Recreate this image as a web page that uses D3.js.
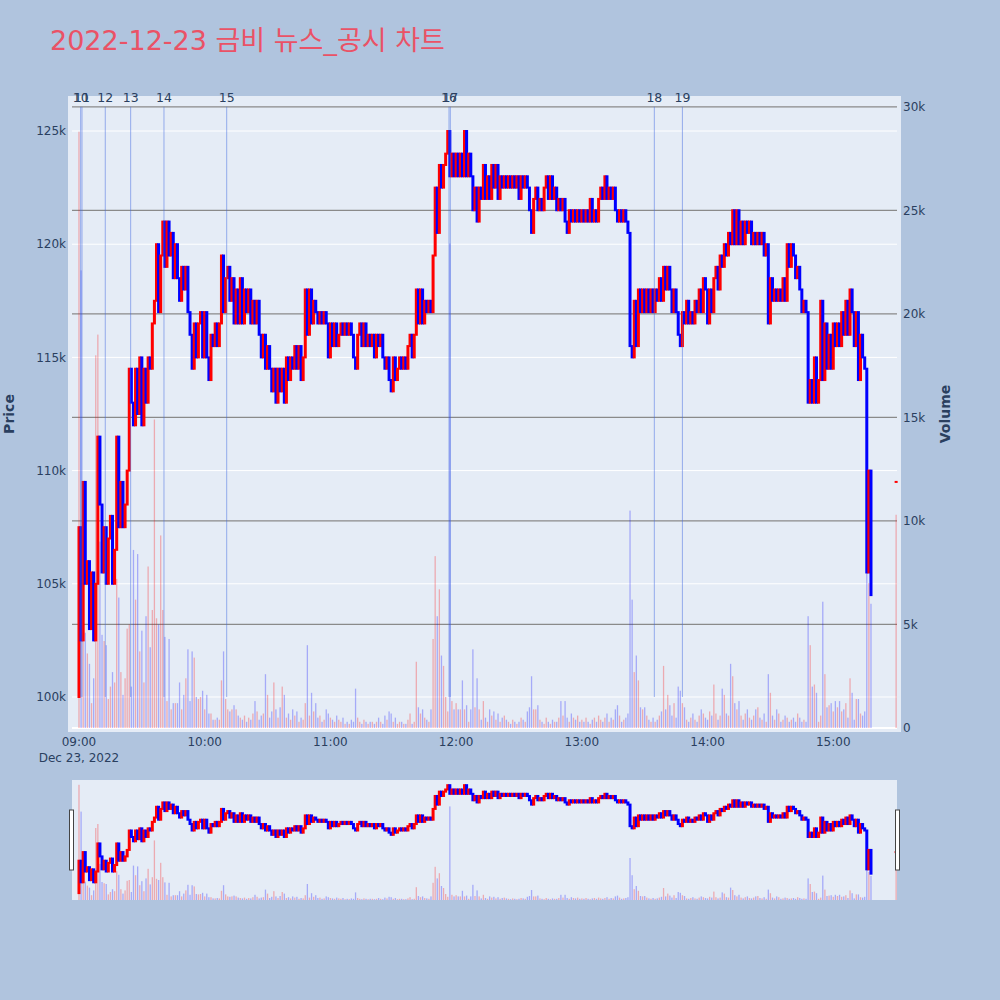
<!DOCTYPE html>
<html><head><meta charset="utf-8">
<script src="https://cdn.jsdelivr.net/npm/d3@7"></script>
<style>
body{margin:0;background:#b0c4de;}
svg{display:block;font-family:"DejaVu Sans","Noto Sans CJK KR",sans-serif;}
</style>
</head><body>
<svg id="chart" width="1000" height="1000"></svg>
<script>
// ---------------- DATA ----------------
const chartTitle = "2022-12-23 금비 뉴스_공시 차트";
const sessionStart = "2022-12-23 09:00";
const firstOpen = 100.0; // k won
// one-minute closes (k won) from 09:00 to 15:18
const closes = [
107.5,102.5,109.5,105.0,106.0,103.0,105.5,102.5,105.0,111.5,
108.5,105.5,107.5,105.0,107.0,108.0,105.0,106.5,111.5,107.5,
109.5,107.5,108.5,110.0,114.5,113.0,112.0,114.5,112.5,115.0,
112.0,114.5,113.0,115.0,114.5,116.5,117.5,120.0,117.0,119.5,
121.0,119.0,121.0,119.5,120.5,118.5,120.0,118.5,117.5,119.0,
118.0,119.0,117.0,116.0,114.5,116.5,115.0,116.5,117.0,115.0,
117.0,115.0,114.0,116.0,115.5,116.5,115.5,116.5,119.5,117.0,
118.5,119.0,117.5,118.5,116.5,118.0,116.5,118.5,116.5,118.0,
117.0,118.0,116.5,117.5,116.5,117.5,116.0,115.0,116.0,114.5,
115.5,114.5,113.5,114.5,113.0,114.5,113.5,114.5,113.0,115.0,
114.0,115.0,114.5,115.5,114.5,115.5,114.0,115.0,118.0,116.0,
118.0,116.5,117.5,117.0,116.5,117.0,116.5,117.0,116.5,115.0,
116.5,115.5,116.5,115.5,116.0,116.5,116.0,116.5,116.0,116.5,
116.0,115.0,114.5,116.0,116.5,115.5,116.5,115.5,116.0,115.5,
116.0,115.0,116.0,115.5,116.0,115.0,114.5,115.0,114.0,113.5,
115.0,114.0,114.5,115.0,114.5,115.0,114.5,115.5,116.0,115.0,
116.0,118.0,116.5,118.0,116.5,117.5,117.0,117.5,117.0,119.5,
122.5,120.5,123.5,122.5,123.5,124.0,125.0,123.0,124.0,123.0,
124.0,123.0,124.0,123.0,125.0,123.0,124.0,123.0,121.5,122.5,
121.0,122.5,122.0,123.5,122.0,123.0,122.0,123.5,122.5,123.5,
122.0,123.0,122.5,123.0,122.5,123.0,122.5,123.0,122.5,123.0,
122.0,123.0,122.5,123.0,122.5,121.5,120.5,122.0,122.5,121.5,
122.0,121.5,122.5,123.0,122.0,123.0,122.0,122.5,121.5,122.0,
121.5,122.0,121.0,120.5,121.5,121.0,121.5,121.0,121.5,121.0,
121.5,121.0,121.5,121.0,122.0,121.0,121.5,121.0,122.0,122.5,
122.0,123.0,122.0,122.5,122.0,122.5,121.5,121.0,121.5,121.0,
121.5,121.0,120.5,115.5,115.0,117.5,115.5,118.0,117.0,118.0,
117.0,118.0,117.0,118.0,117.0,118.0,117.5,118.5,117.5,119.0,
118.0,119.0,118.0,117.0,118.0,117.0,116.0,115.5,117.0,116.5,
117.5,116.5,117.0,116.5,117.5,117.0,118.0,117.0,118.5,118.0,
116.5,118.0,117.0,118.5,119.0,118.0,119.5,119.0,120.0,119.5,
120.5,120.0,121.5,120.0,121.5,120.0,121.0,120.0,121.0,120.5,
121.0,120.0,120.5,120.0,120.5,120.0,120.5,119.5,120.0,116.5,
118.5,117.5,118.0,117.5,118.0,117.5,118.5,117.5,120.0,119.0,
120.0,119.5,118.5,119.0,118.0,117.0,117.5,117.0,113.0,114.0,
113.0,115.0,113.0,114.0,117.5,114.0,116.5,114.5,116.0,114.5,
116.5,115.5,116.5,115.5,117.0,116.0,117.5,116.0,118.0,117.0,
115.5,117.0,114.0,116.0,115.0,114.5,105.5,110.0,104.5
];
const volumes = [
28800,22100,7100,4600,3600,3100,1200,2400,18000,19000,
9000,4500,4200,4000,1400,2000,2700,2200,7200,6300,
2700,1600,2400,4800,5000,2000,8600,6200,8400,3700,
4700,2200,5400,7800,3900,5700,14900,5300,5000,9300,
5700,4400,1300,4300,900,1200,1200,1200,2200,900,
1600,2400,3800,1300,3700,3400,1500,1400,1500,1800,
900,1600,700,700,400,400,500,400,2300,3700,
1400,900,800,900,1100,900,600,500,400,600,
300,500,400,700,1300,800,400,600,700,2600,
1600,500,800,2200,900,500,1000,2000,1600,500,
700,400,900,600,800,300,500,400,1200,4000,
600,1700,800,1200,500,600,300,400,900,700,
500,400,300,600,400,300,500,200,300,200,
400,300,1900,500,300,200,400,300,200,300,
300,200,300,500,300,200,600,400,800,700,
300,500,200,300,300,200,200,400,700,200,
300,3200,1000,700,900,500,400,300,900,4300,
8300,5400,6700,3500,3000,1500,800,23400,1300,900,
1200,900,900,2300,900,1100,300,900,3800,1000,
2400,900,400,1300,500,300,900,600,800,400,
700,300,500,600,400,300,200,400,300,200,
300,500,400,300,800,1000,2500,900,900,1100,
400,300,200,500,300,200,400,300,300,500,
1300,600,1300,500,300,700,500,400,600,300,
400,300,500,300,200,400,500,300,600,400,
300,500,700,300,500,400,900,1100,600,300,
400,500,700,10500,6200,2700,3500,2300,1000,900,
1000,600,400,300,500,300,400,600,800,3000,
900,1600,1100,600,1200,500,2000,1800,1200,1000,
400,300,500,700,400,300,600,900,700,500,
400,800,600,2100,700,400,600,1900,1600,700,
600,3100,2500,1200,900,1300,600,400,700,900,
500,400,600,900,1000,500,400,700,300,2600,
1700,600,400,900,700,300,400,600,500,300,
400,500,300,700,500,300,400,300,5400,4000,
2000,2100,1700,300,600,6100,2600,1000,1100,1200,
800,1300,1000,1300,800,900,1200,500,2400,1700,
400,1400,1400,700,600,800,8600,7000,6000
];
// closing single-price auction
const auctionTime = "2022-12-23 15:30";
const auctionPrice = 109.5;
const auctionVolume = 10300;
// news / disclosure markers
const newsIds   = [10, 11, 12, 13, 14, 15, 16, 17, 18, 19];
const newsTimes = ["09:00:48","09:01:26","09:12:33","09:24:40","09:40:34",
                   "10:10:30","11:56:36","11:57:14","13:34:36","13:48:00"];
const priceTicks  = [100, 105, 110, 115, 120, 125];
const volumeTicks = [0, 5000, 10000, 15000, 20000, 25000, 30000];
const timeTicks   = ["09:00","10:00","11:00","12:00","13:00","14:00","15:00"];

// ---------------- BUILD ----------------
const parseT = d3.timeParse("%Y-%m-%d %H:%M");
const parseS = d3.timeParse("%Y-%m-%d %H:%M:%S");
const t0 = parseT(sessionStart);
const day = sessionStart.slice(0, 10);

const candles = closes.map((c, i) => {
  const o = i === 0 ? firstOpen : closes[i - 1];
  return {t: d3.timeMinute.offset(t0, i), o, c, v: volumes[i], inc: c > o};
});
const lastC = closes[closes.length - 1];
candles.push({t: parseT(auctionTime), o: auctionPrice, c: auctionPrice, v: auctionVolume,
  inc: auctionPrice > lastC});

const svg = d3.select("#chart");
const P = {l: 72, r: 897, t: 100, b: 728};
const S = {t: 780, b: 900};

const x = d3.scaleTime()
  .domain([d3.timeSecond.offset(t0, -200), d3.timeSecond.offset(t0, 390 * 60 + 25)])
  .range([P.l, P.r]);
const yP = d3.scaleLinear().domain([98.63, 126.37]).range([P.b, P.t]);
const yV = d3.scaleLinear().domain([0, 30330]).range([P.b, P.t]);
const ySP = d3.scaleLinear().domain([98.4, 126.2]).range([S.b, S.t]);
const ySV = d3.scaleLinear().domain([0, 30000]).range([S.b, S.t]);

const RED = "#ff0000", BLUE = "#0000ff", TXT = "#2a3f5f";

// title
svg.append("text").attr("x", 50).attr("y", 50).attr("font-size", 27)
  .attr("fill", "rgb(234,82,102)").text(chartTitle);

// plot background
svg.append("rect").attr("x", 68).attr("y", 96).attr("width", 833).attr("height", 636)
  .attr("fill", "#e5ecf6");

// price grid (white)
svg.append("g").selectAll("line").data(priceTicks).join("line")
  .attr("x1", P.l).attr("x2", P.r)
  .attr("y1", d => yP(d)).attr("y2", d => yP(d))
  .attr("stroke", "#fff").attr("stroke-width", 1);
// volume grid (gray)
svg.append("g").selectAll("line").data(volumeTicks.filter(d => d > 0)).join("line")
  .attr("x1", P.l).attr("x2", P.r)
  .attr("y1", d => yV(d)).attr("y2", d => yV(d))
  .attr("stroke", "#8a8a8a").attr("stroke-width", 1.3);
// zero line
svg.append("line").attr("x1", P.l).attr("x2", P.r).attr("y1", yV(0)).attr("y2", yV(0))
  .attr("stroke", "#fff").attr("stroke-width", 2);

// clip
const defs = svg.append("defs");
defs.append("clipPath").attr("id", "clipMain").append("rect")
  .attr("x", 68).attr("y", 96).attr("width", 833).attr("height", 636);
defs.append("clipPath").attr("id", "clipSl").append("rect")
  .attr("x", P.l).attr("y", S.t).attr("width", P.r - P.l).attr("height", S.b - S.t);

function drawSeries(g, yPrice, yVol) {
  g.append("g").selectAll("rect").data(candles).join("rect")
    .attr("x", d => x(d.t) - 0.65).attr("width", 1.3)
    .attr("y", d => yVol(d.v)).attr("height", d => yVol(0) - yVol(d.v))
    .attr("fill", d => d.inc ? RED : BLUE).attr("fill-opacity", 0.28);
  g.append("g").selectAll("rect").data(candles).join("rect")
    .attr("x", d => x(d.t) - 1.5).attr("width", 3)
    .attr("y", d => yPrice(Math.max(d.o, d.c) ) - 1)
    .attr("height", d => yPrice(Math.min(d.o, d.c)) - yPrice(Math.max(d.o, d.c)) + 2)
    .attr("fill", d => d.inc ? RED : BLUE);
}
drawSeries(svg.append("g").attr("clip-path", "url(#clipMain)"), yP, yV);

// news lines
const news = newsIds.map((id, i) => ({id, t: parseS(day + " " + newsTimes[i])}));
svg.append("g").selectAll("line").data(news).join("line")
  .attr("x1", d => x(d.t)).attr("x2", d => x(d.t))
  .attr("y1", yV(30000)).attr("y2", yP(100))
  .attr("stroke", "royalblue").attr("stroke-opacity", 0.5).attr("stroke-width", 1);
svg.append("g").selectAll("text").data(news).join("text")
  .attr("x", d => x(d.t)).attr("y", 102).attr("text-anchor", "middle")
  .attr("font-size", 12.5).attr("fill", TXT).text(d => d.id);

// axes labels
const fmtK = d => d === 0 ? "0" : (d / 1000) + "k";
svg.append("g").selectAll("text").data(priceTicks).join("text")
  .attr("x", 66).attr("y", d => yP(d)).attr("dy", "0.35em").attr("text-anchor", "end")
  .attr("font-size", 12).attr("fill", TXT).text(d => d + "k");
svg.append("g").selectAll("text").data(volumeTicks).join("text")
  .attr("x", 903).attr("y", d => yV(d)).attr("dy", "0.35em").attr("text-anchor", "start")
  .attr("font-size", 12).attr("fill", TXT).text(fmtK);
const tickTimes = timeTicks.map(s => parseT(day + " " + s));
svg.append("g").selectAll("text").data(tickTimes).join("text")
  .attr("x", d => x(d)).attr("y", 746).attr("text-anchor", "middle")
  .attr("font-size", 12).attr("fill", TXT).text((d, i) => timeTicks[i]);
svg.append("text").attr("x", x(tickTimes[0])).attr("y", 762).attr("text-anchor", "middle")
  .attr("font-size", 12).attr("fill", TXT).text(d3.timeFormat("%b %d, %Y")(t0));

svg.append("text").attr("transform", "translate(14,414) rotate(-90)").attr("text-anchor", "middle")
  .attr("font-size", 14).attr("font-weight", "bold").attr("fill", TXT).text("Price");
svg.append("text").attr("transform", "translate(950,414) rotate(-90)").attr("text-anchor", "middle")
  .attr("font-size", 14).attr("font-weight", "bold").attr("fill", TXT).text("Volume");

// range slider
svg.append("rect").attr("x", P.l).attr("y", S.t).attr("width", P.r - P.l).attr("height", S.b - S.t)
  .attr("fill", "#e5ecf6");
drawSeries(svg.append("g").attr("clip-path", "url(#clipSl)"), ySP, ySV);
[P.l - 2.5, P.r - 1.5].forEach(hx => {
  svg.append("rect").attr("x", hx).attr("y", 810).attr("width", 4).attr("height", 60)
    .attr("fill", "#fff").attr("stroke", "#444").attr("stroke-width", 1);
});
</script>
</body></html>
